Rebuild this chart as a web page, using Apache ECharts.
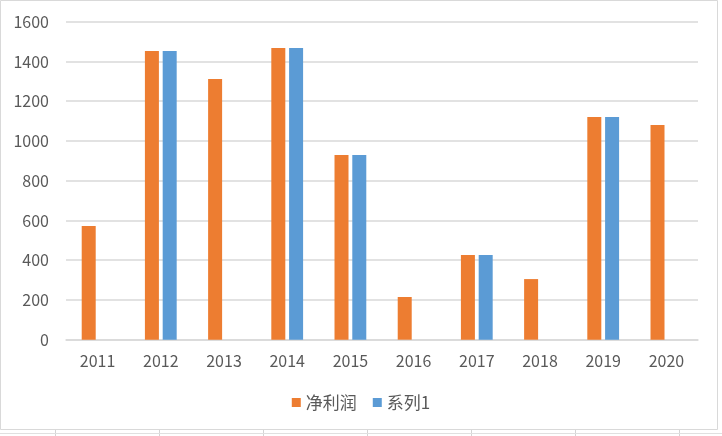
<!DOCTYPE html>
<html>
<head>
<meta charset="utf-8">
<script src="https://cdn.jsdelivr.net/npm/echarts@6/dist/echarts.min.js"></script>
<style>
html,body{margin:0;padding:0;background:#fff;}
#c{width:722px;height:436px;}
</style>
</head>
<body>
<div id="c"></div>
<script>
const categories = ['2011','2012','2013','2014','2015','2016','2017','2018','2019','2020'];
const netProfit = [572, 1453, 1312, 1468, 929, 215, 426, 305, 1120, 1080];
const series1 = [null, 1453, null, 1468, 929, null, 426, null, 1120, null];
const seriesNames = ['净利润', '系列1'];

const chart = echarts.init(document.getElementById('c'), null, {renderer: 'canvas'});
const font = '"Noto Sans CJK SC", "Microsoft YaHei", sans-serif';
const cellLines = [];
[55,159,263,367,471,575,679].forEach(x => {
  cellLines.push({type:'line', shape:{x1:x+0.5,y1:430,x2:x+0.5,y2:436}, style:{stroke:'#d4d4d4',lineWidth:1}, silent:true});
});
cellLines.push({type:'line', shape:{x1:0,y1:433.5,x2:722,y2:433.5}, style:{stroke:'#e0e0e0',lineWidth:1}, silent:true});

chart.setOption({
  backgroundColor: '#fff',
  animation: false,
  textStyle: {fontFamily: font},
  color: ['#ED7D31', '#5B9BD5'],
  graphic: [
    {type:'rect', shape:{x:0.5,y:0.5,width:717,height:429}, style:{fill:'none', stroke:'#d9d9d9', lineWidth:1}, silent:true, z:-1}
  ].concat(cellLines),
  grid: {left: 66, right: 24, top: 21.7, bottom: 96.3, containLabel: false},
  legend: {
    bottom: 20,
    left: 'center',
    itemWidth: 9,
    itemHeight: 9,
    itemGap: 16,
    icon: 'rect',
    textStyle: {fontSize: 17, color: '#595959', fontFamily: font},
    data: seriesNames
  },
  xAxis: {
    type: 'category',
    data: categories,
    axisLine: {show: true, lineStyle: {color: '#d9d9d9', width: 1.5}},
    axisTick: {show: false},
    axisLabel: {color: '#595959', fontSize: 16, margin: 13, fontFamily: font}
  },
  yAxis: {
    type: 'value',
    min: 0,
    max: 1600,
    interval: 200,
    axisLine: {show: false},
    axisTick: {show: false},
    splitLine: {lineStyle: {color: '#d9d9d9', width: 1.5}},
    axisLabel: {color: '#595959', fontSize: 16, margin: 17, fontFamily: font, formatter: v => String(v)}
  },
  series: [
    {name: seriesNames[0], type: 'bar', data: netProfit, barWidth: 14, barGap: '27%'},
    {name: seriesNames[1], type: 'bar', data: series1, barWidth: 14, barGap: '27%'}
  ]
});
</script>
</body>
</html>
